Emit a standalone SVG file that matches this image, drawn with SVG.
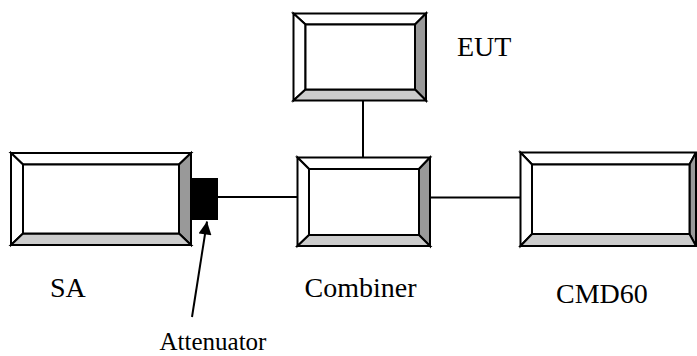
<svg xmlns="http://www.w3.org/2000/svg" width="697" height="356" viewBox="0 0 697 356">
<style>
.s{stroke:#000;stroke-width:2;stroke-linejoin:miter}
.w{fill:#fff}
.d{fill:#999}
.l{fill:#ccc}
.t{font-family:"Liberation Serif","Times New Roman",serif;font-size:28px;fill:#000}
.c{stroke:#000;stroke-width:2;fill:none}
</style>
<defs>
<marker id="ah" viewBox="0 0 10 10" refX="10" refY="5" markerWidth="7.5" markerHeight="6.5" orient="auto" markerUnits="strokeWidth">
<path d="M0,0 L10,5 L0,10 z" fill="#000"/>
</marker>
</defs>
<rect width="697" height="356" fill="#fff"/>
<g id="connectors">
<line class="c" x1="218" y1="197" x2="297.5" y2="197"/>
<line class="c" x1="363" y1="100.5" x2="363" y2="157.5"/>
<line class="c" x1="430" y1="197.5" x2="520.5" y2="197.5"/>
<line class="c" x1="192" y1="317" x2="207" y2="221.5" marker-end="url(#ah)"/>
</g>
<g id="SA">
<polygon class="s w" points="11,153 191,153 179,164.5 23,164.5"/>
<polygon class="s w" points="11,153 23,164.5 23,233.5 11,245"/>
<polygon class="s d" points="191,153 191,245 179,233.5 179,164.5"/>
<polygon class="s l" points="11,245 23,233.5 179,233.5 191,245"/>
<rect class="s w" x="23" y="164.5" width="156" height="69"/>
<text class="t" x="50" y="296.5">SA</text>
</g>
<g id="Attenuator">
<rect x="191" y="178" width="27" height="42" fill="#000"/>
<text class="t" x="159.5" y="350" style="font-size:25px">Attenuator</text>
</g>
<g id="EUT">
<polygon class="s w" points="293.5,13.5 426,13.5 415,24.5 305.5,24.5"/>
<polygon class="s w" points="293.5,13.5 305.5,24.5 305.5,89.5 293.5,100.5"/>
<polygon class="s d" points="426,13.5 426,100.5 415,89.5 415,24.5"/>
<polygon class="s l" points="293.5,100.5 305.5,89.5 415,89.5 426,100.5"/>
<rect class="s w" x="305.5" y="24.5" width="109.5" height="65"/>
<text class="t" x="457" y="56">EUT</text>
</g>
<g id="Combiner">
<polygon class="s w" points="297.5,157.5 430,157.5 419,169 309,169"/>
<polygon class="s w" points="297.5,157.5 309,169 309,235 297.5,246"/>
<polygon class="s d" points="430,157.5 430,246 419,235 419,169"/>
<polygon class="s l" points="297.5,246 309,235 419,235 430,246"/>
<rect class="s w" x="309" y="169" width="110" height="66"/>
<text class="t" x="304.5" y="296.5">Combiner</text>
</g>
<g id="CMD60">
<polygon class="s w" points="520.5,152.5 696,152.5 689.5,164.5 532,164.5"/>
<polygon class="s w" points="520.5,152.5 532,164.5 532,234 520.5,246"/>
<polygon class="s d" points="696,152.5 696,246 689.5,234 689.5,164.5"/>
<polygon class="s l" points="520.5,246 532,234 689.5,234 696,246"/>
<rect class="s w" x="532" y="164.5" width="157.5" height="69.5"/>
<text class="t" x="556" y="303">CMD60</text>
</g>
</svg>
